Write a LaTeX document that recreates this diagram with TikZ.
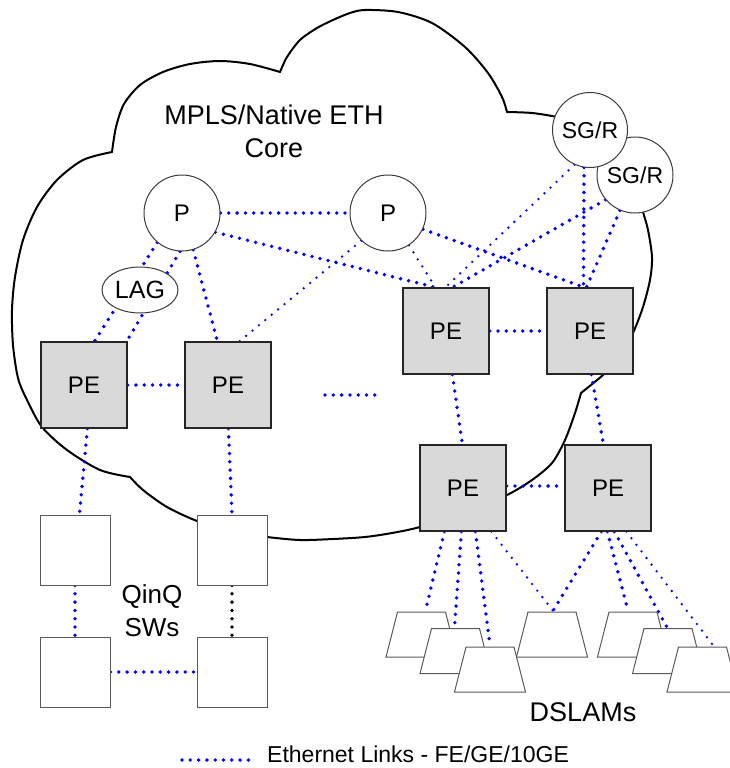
\documentclass[tikz,border=0pt]{standalone}
\usepackage{fontspec}
\setmainfont{Liberation Sans}
\usetikzlibrary{shapes.geometric,calc,backgrounds}
\definecolor{linkBlue}{RGB}{0,0,255}
\definecolor{peGray}{RGB}{217,217,217}
\definecolor{edgeGray}{RGB}{60,60,60}
\definecolor{thinGray}{RGB}{90,90,90}
\tikzset{
  pcirc/.style={circle, draw=edgeGray, line width=1pt, fill=white, minimum size=76pt, inner sep=0pt, font=\fontsize{24}{28}\selectfont},
  sgcirc/.style={pcirc, font=\fontsize{23}{27}\selectfont},
  lagell/.style={ellipse, draw=edgeGray, line width=1pt, fill=white, minimum width=76pt, minimum height=46pt, inner sep=0pt, font=\fontsize{25}{29}\selectfont},
  pebox/.style={rectangle, draw=black!85, line width=1.2pt, fill=peGray, minimum size=86pt, inner sep=0pt, font=\fontsize{24}{28}\selectfont},
  swbox/.style={rectangle, draw=thinGray, line width=1pt, fill=white, minimum size=70pt, inner sep=0pt},
  dslam/.style={rectangle, minimum width=73pt, minimum height=47pt, inner sep=0pt,
    path picture={\filldraw[fill=white, draw=thinGray, line width=1pt, line join=miter]
      ($(path picture bounding box.south west)+(1pt,1pt)$) --
      ($(path picture bounding box.south east)+(-1pt,1pt)$) --
      ($(path picture bounding box.north east)+(-12.5pt,-1pt)$) --
      ($(path picture bounding box.north west)+(12.5pt,-1pt)$) -- cycle;}},
  link/.style={draw=linkBlue, line width=3.8pt, line cap=round, dash pattern=on 0pt off 8.3pt},
  thinlink/.style={link, line width=2.6pt},
  blacklink/.style={link, draw=black},
  cloudline/.style={draw=black, line width=2pt, line join=round, line cap=round},
  lbl/.style={inner sep=0pt, align=center}
}
\begin{document}
\begin{tikzpicture}[x=1pt,y=-1pt]
\useasboundingbox (0,0) rectangle (730,768);

% core nodes
\node[pcirc] (P1) at (182,213) {P};
\node[pcirc] (P2) at (388,213) {P};
\node[sgcirc] (SG2) at (635,175) {SG/R};
\node[sgcirc, minimum size=75pt] (SG1) at (590,130) {SG/R};
\node[lagell] (LAG) at (140,290) {LAG};

\node[pebox] (PE1) at (84,385) {PE};
\node[pebox] (PE2) at (228,385) {PE};
\node[pebox] (PE3) at (446,331) {PE};
\node[pebox] (PE4) at (590,331) {PE};
\node[pebox] (PE5) at (463,488) {PE};
\node[pebox] (PE6) at (608,488) {PE};

% QinQ switches
\node[swbox] (QA) at (75,550) {};
\node[swbox] (QB) at (232,550) {};
\node[swbox] (QC) at (75,672) {};
\node[swbox] (QD) at (232,672) {};

% DSLAMs
\node[dslam] (T1) at (421.5,634.5) {};
\node[dslam] (T2) at (455.5,651) {};
\node[dslam] (T3) at (490,669.5) {};
\node[dslam] (T4) at (552,634.5) {};
\node[dslam] (T5) at (633,634.5) {};
\node[dslam] (T6) at (668,651) {};
\node[dslam] (T7) at (702.5,669.5) {};

% texts
\node[lbl, font=\fontsize{27}{33}\selectfont] (core) at (274,131) {MPLS/Native ETH\\Core};
\node[lbl, font=\fontsize{26}{33}\selectfont] (qinq) at (152,611) {QinQ\\SWs};
\node[lbl, font=\fontsize{27}{31}\selectfont] (dsl) at (583,712) {DSLAMs};
\coordinate (lg1) at (182,760);
\coordinate (lg2) at (252,760);
\node[inner sep=0pt, anchor=base west, font=\fontsize{23}{27}\selectfont] (legend) at (267,762.5) {Ethernet Links - FE/GE/10GE};
\coordinate (dd1) at (325,395);
\coordinate (dd2) at (378,395);

\begin{scope}[on background layer]
% cloud
\draw[cloudline] plot[smooth] coordinates {(280,72)(250,64)(220,61)(190,64)(163,72)(140,85)(124,104)(116,127)(112,152)};
\draw[cloudline] plot[smooth] coordinates {(280,72)(287,57)(300,40)(317,28)(333,20)(350,13)(365,10)(398,12)(432,23)(465,47)(488,73)(502,97)(507,112)};
\draw[cloudline] plot[smooth] coordinates {(112,152)(83,160)(57,180)(37,207)(23,240)(15,277)(12,310)(13,345)(18,378)(27,400)(42,427)(67,450)(100,470)(130,477)};
\draw[cloudline] plot[smooth] coordinates {(130,477)(143,490)(167,507)(197,521)(232,532)(267,537)(300,540)(333,539)(365,537)(392,533)(420,527)(465,513)(507,495)(532,480)(552,463)(565,440)(575,413)(581,393)};
\draw[cloudline] plot[smooth] coordinates {(581,393)(603,375)(620,358)(633,333)(643,307)(650,280)(652,257)(648,230)(643,212)(635,185)(615,150)(590,125)(557,117)(532,113)(507,112)};

% links in the core
\draw[link] (P1.east) -- (P2.west);
\draw[link] (P1.230) -- ($(PE1.north west)+(54,0)$);
\draw[link] (P1.267) -- ($(PE1.north east)+(-1,0)$);
\draw[link] (P1.287) -- ($(PE2.north west)+(33,0)$);
\draw[link] (P1.-30) -- ($(PE3.north west)+(33,0)$);
\draw[thinlink] (P2.226) -- ($(PE2.north west)+(55,0)$);
\draw[thinlink] (P2.303) -- ($(PE3.north west)+(33,0)$);
\draw[link] (P2.-25) -- ($(PE4.north west)+(38,0)$);
\draw[thinlink] (SG1.246) -- ($(PE3.north west)+(43,0)$);
\draw[link] (SG2.220) -- ($(PE3.north west)+(50,0)$);
\draw[link] (SG1.261) -- ($(PE4.north west)+(37,0)$);
\draw[link] (SG2.247) -- ($(PE4.north west)+(40,0)$);
\draw[link] (PE1.east) -- (PE2.west);
\draw[link] (PE3.east) -- (PE4.west);
\draw[link] ($(PE5.east)+(0,-2)$) -- ($(PE6.west)+(0,-2)$);
\draw[link] ($(PE3.south west)+(50,0)$) -- ($(PE5.north west)+(43,0)$);
\draw[link] ($(PE4.south west)+(45,0)$) -- ($(PE6.north west)+(39,0)$);
\draw[link] (dd1) -- (dd2);

% access
\draw[link] ($(PE1.south west)+(47,0)$) -- ($(QA.north west)+(40,0)$);
\draw[link] ($(PE2.south west)+(44,0)$) -- (QB.north);
\draw[link] (QA.south) -- (QC.north);
\draw[blacklink] (QB.south) -- (QD.north);
\draw[link] (QC.east) -- (QD.west);

% DSLAM links
\draw[link] ($(PE5.south west)+(25,0)$) -- ($(T1.north)+(4,0)$);
\draw[link] ($(PE5.south west)+(42,0)$) -- ($(T2.north)+(-1,0)$);
\draw[link] ($(PE5.south west)+(56,0)$) -- (T3.north);
\draw[thinlink] ($(PE5.south west)+(72,0)$) -- ($(T4.north)+(1,0)$);
\draw[link] ($(PE6.south west)+(37,0)$) -- ($(T4.north)+(1,0)$);
\draw[link] ($(PE6.south west)+(43,0)$) -- ($(T5.north)+(-5,0)$);
\draw[link] ($(PE6.south west)+(50,0)$) -- ($(T6.north)+(-1,0)$);
\draw[thinlink] ($(PE6.south west)+(62,0)$) -- ($(T7.north)+(11,0)$);

% legend
\draw[link] (lg1) -- (lg2);
\end{scope}
\end{tikzpicture}
\end{document}
